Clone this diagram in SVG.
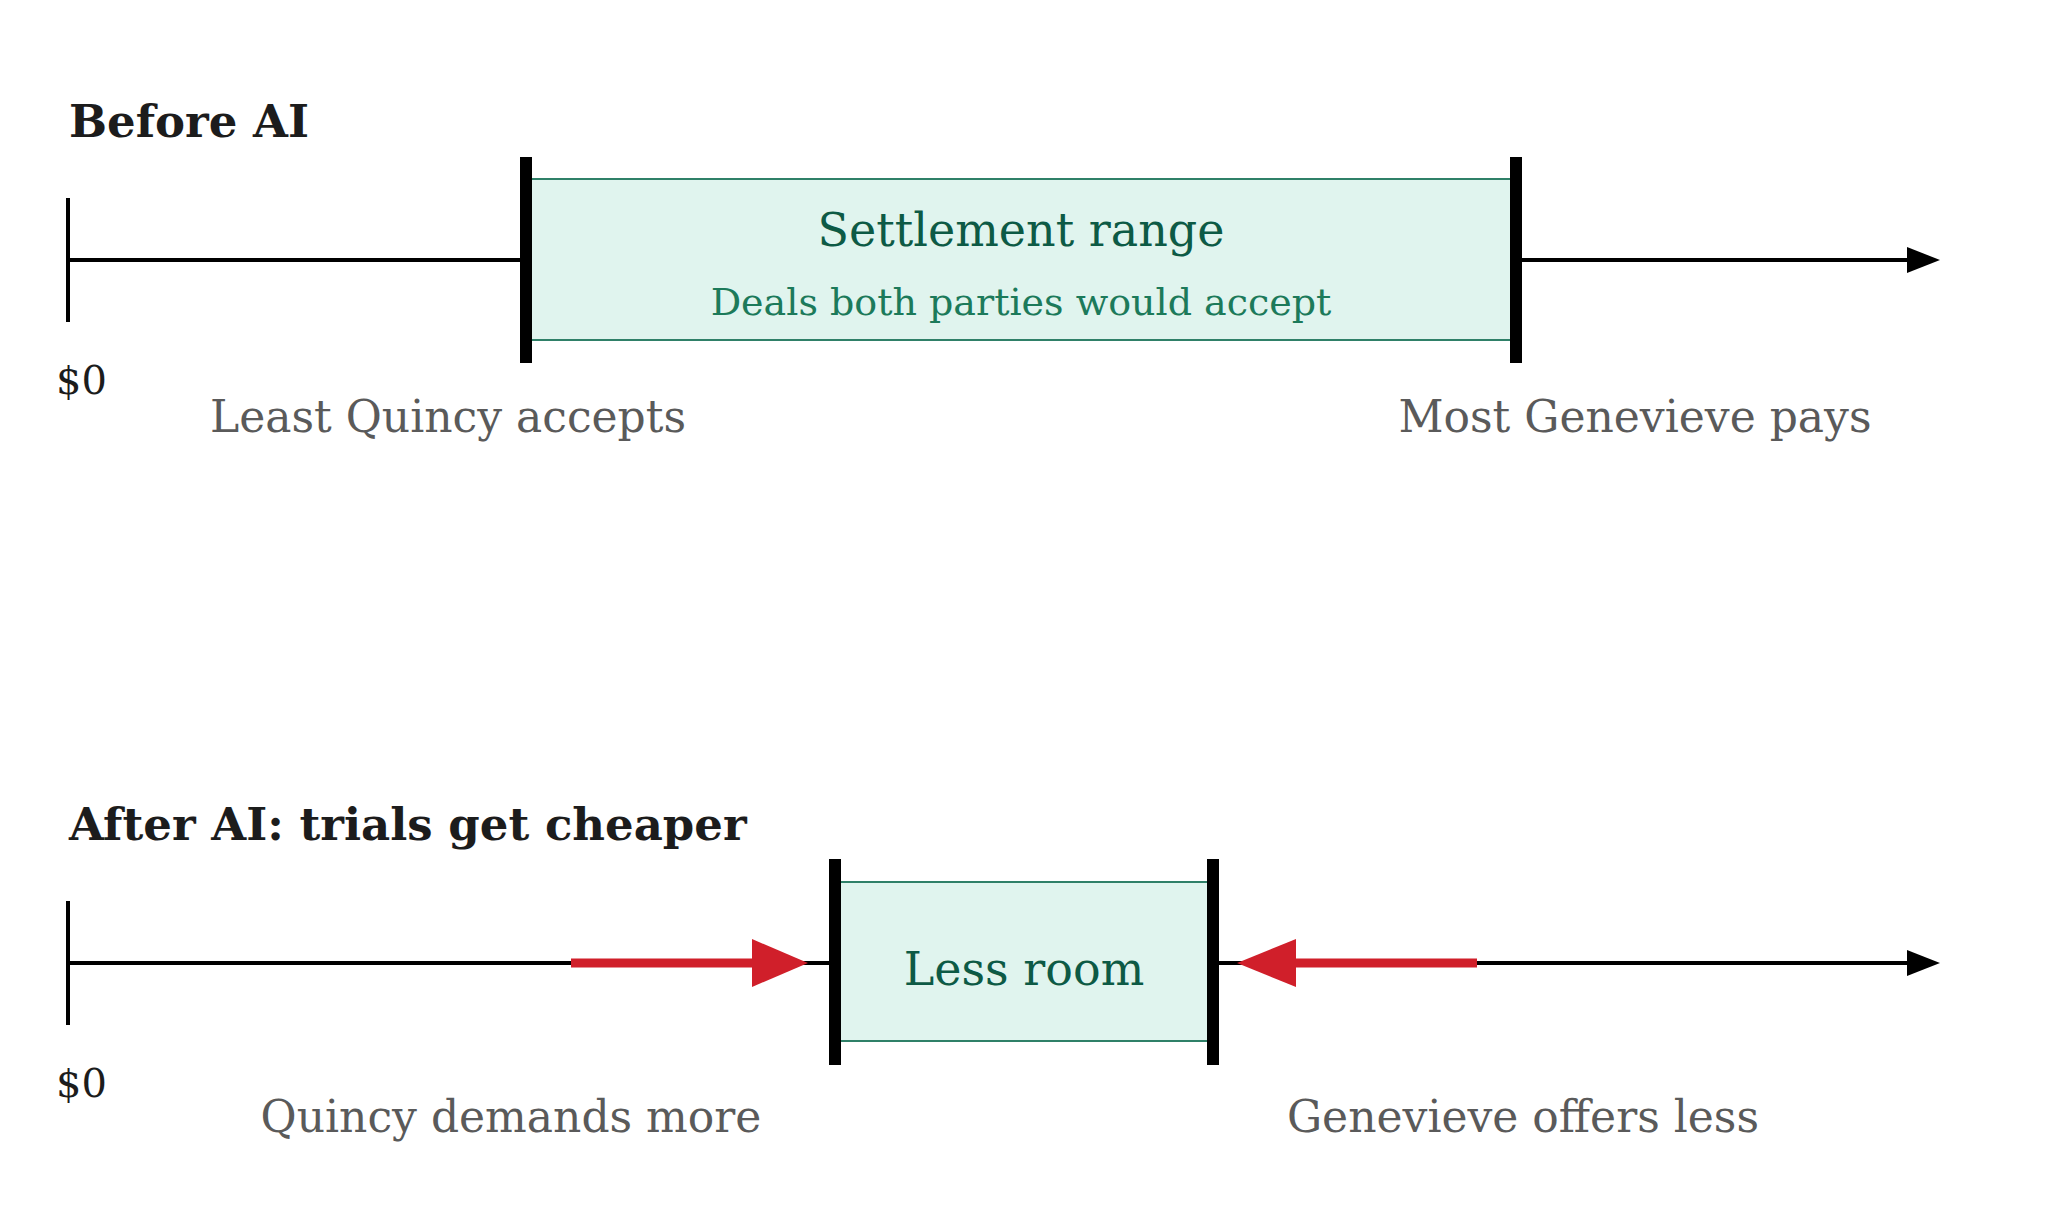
<svg xmlns="http://www.w3.org/2000/svg" width="2048" height="1229" viewBox="0 0 2048 1229">
<defs>
<style>
.title{font-family:"DejaVu Serif","Liberation Serif",serif;font-weight:bold;font-size:45px;fill:#1c1c1c}
.lbl{font-family:"DejaVu Serif","Liberation Serif",serif;font-size:44px;fill:#5a5a5a}
.zero{font-family:"DejaVu Serif","Liberation Serif",serif;font-size:40px;fill:#1c1c1c}
.main{font-family:"DejaVu Serif","Liberation Serif",serif;font-size:46px;fill:#0d5a45;text-anchor:middle}
.sub{font-family:"DejaVu Serif","Liberation Serif",serif;font-size:38px;fill:#1c7a5a;text-anchor:middle}
.axis{stroke:#000;stroke-width:4;fill:none}
.bar{stroke:#000;stroke-width:12}
.range{fill:#e0f4ee;stroke:#2f8068;stroke-width:2}
.push{stroke:#d01f2a;stroke-width:9}
.head{fill:#d01f2a}
.ahead{fill:#000}
</style>
</defs>
<rect width="2048" height="1229" fill="#fff"/>

<g id="before-title"><text class="title" x="69" y="137">Before AI</text></g>

<g id="connectors">
  <line class="axis" x1="68" y1="260" x2="1910" y2="260"/>
  <polygon class="ahead" points="1907,247 1940,260 1907,273"/>
  <line class="axis" x1="68" y1="198" x2="68" y2="322"/>
  <line class="axis" x1="68" y1="963" x2="1910" y2="963"/>
  <polygon class="ahead" points="1907,950 1940,963 1907,976"/>
  <line class="axis" x1="68" y1="901" x2="68" y2="1025"/>
  <line class="push" x1="571" y1="963" x2="756" y2="963"/>
  <polygon class="head" points="752,939 808,963 752,987"/>
  <line class="push" x1="1292" y1="963" x2="1477" y2="963"/>
  <polygon class="head" points="1296,939 1237,963 1296,987"/>
</g>

<g id="settlement-range">
  <rect class="range" x="526" y="179" width="990" height="161"/>
  <line class="bar" x1="526" y1="157" x2="526" y2="363"/>
  <line class="bar" x1="1516" y1="157" x2="1516" y2="363"/>
  <text class="main" x="1021" y="246">Settlement range</text>
  <text class="sub" x="1021" y="315">Deals both parties would accept</text>
</g>

<g id="top-labels">
  <text class="zero" x="56" y="394">$0</text>
  <text class="lbl" x="448" y="432" text-anchor="middle">Least Quincy accepts</text>
  <text class="lbl" x="1635" y="432" text-anchor="middle">Most Genevieve pays</text>
</g>

<g id="after-title"><text class="title" x="69" y="840">After AI: trials get cheaper</text></g>

<g id="less-room">
  <rect class="range" x="835" y="882" width="378" height="159"/>
  <line class="bar" x1="835" y1="859" x2="835" y2="1065"/>
  <line class="bar" x1="1213" y1="859" x2="1213" y2="1065"/>
  <text class="main" x="1024" y="985">Less room</text>
</g>

<g id="bottom-labels">
  <text class="zero" x="56" y="1097">$0</text>
  <text class="lbl" x="511" y="1132" text-anchor="middle">Quincy demands more</text>
  <text class="lbl" x="1523" y="1132" text-anchor="middle">Genevieve offers less</text>
</g>
</svg>
